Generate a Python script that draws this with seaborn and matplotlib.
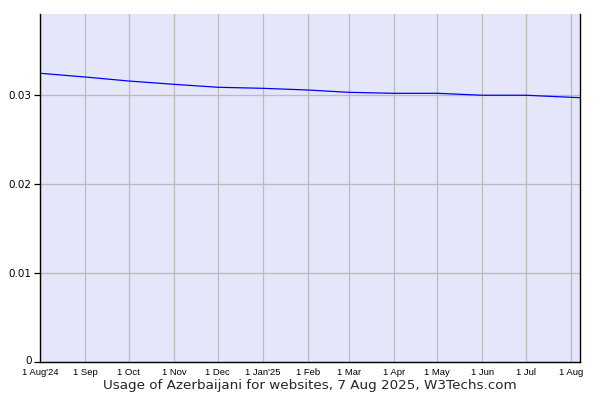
import matplotlib
matplotlib.use("Agg")
import matplotlib.pyplot as plt
import matplotlib.transforms as mtransforms
import seaborn as sns
import pandas as pd

dates = ["2024-08-01", "2024-09-01", "2024-10-01", "2024-11-01", "2024-12-01",
         "2025-01-01", "2025-02-01", "2025-03-01", "2025-04-01", "2025-05-01",
         "2025-06-01", "2025-07-01", "2025-08-01", "2025-08-07"]
usage = [0.03244, 0.03202, 0.03157, 0.03120, 0.03087, 0.03075, 0.03056,
         0.03030, 0.03019, 0.03019, 0.02997, 0.02997, 0.02974, 0.02970]
tick_dates = ["2024-08-01", "2024-09-01", "2024-10-01", "2024-11-01", "2024-12-01",
              "2025-01-01", "2025-02-01", "2025-03-01", "2025-04-01", "2025-05-01",
              "2025-06-01", "2025-07-01", "2025-08-01"]
tick_labels = ["1 Aug'24", "1 Sep", "1 Oct", "1 Nov", "1 Dec", "1 Jan'25", "1 Feb",
               "1 Mar", "1 Apr", "1 May", "1 Jun", "1 Jul", "1 Aug"]
y_ticks = [0, 0.01, 0.02, 0.03]
y_labels = ["0", "0.01", "0.02", "0.03"]
title = "Usage of Azerbaijani for websites, 7 Aug 2025, W3Techs.com"

sns.set_theme(style="white")
plt.rcParams['font.family'] = ['DejaVu Sans']

df = pd.DataFrame({"date": pd.to_datetime(dates), "usage": usage})

fig = plt.figure(figsize=(6, 4), dpi=100)
ax = fig.add_axes([40/600, 1-362/400, 540/600, 348/400])
ax.set_facecolor("#E6E6FA")

sns.lineplot(data=df, x="date", y="usage", ax=ax, color="#0000FF", linewidth=0.9, zorder=3)

ax.set_xlim(pd.Timestamp("2024-08-01"), pd.Timestamp("2025-08-07"))
ax.set_ylim(0, 0.0391)

ax.set_xticks(pd.to_datetime(tick_dates))
ax.set_xticklabels(tick_labels, fontsize=6.8, family="Liberation Sans")
ax.set_yticks(y_ticks)
ax.set_yticklabels(y_labels, fontsize=7.5)

ax.grid(True, color="#BBBBBB", linewidth=0.9)
ax.set_axisbelow(True)

ax.tick_params(axis="x", length=0, pad=4, colors="black")
ax.tick_params(axis="y", length=4, width=0.9, direction="out", pad=2, colors="black", left=True)

# nudge the "0" label up slightly, as in the reference
zero_lbl = ax.get_yticklabels()[0]
zero_lbl.set_transform(zero_lbl.get_transform() +
                       mtransforms.ScaledTranslation(0, 2/100, fig.dpi_scale_trans))

for side in ["left", "right", "bottom"]:
    ax.spines[side].set_visible(True)
    ax.spines[side].set_color("black")
    ax.spines[side].set_linewidth(1.0)
ax.spines["top"].set_visible(False)

ax.set_xlabel(title, fontsize=9.7, labelpad=2)
ax.set_ylabel("")

fig.savefig("out.png", dpi=100)
